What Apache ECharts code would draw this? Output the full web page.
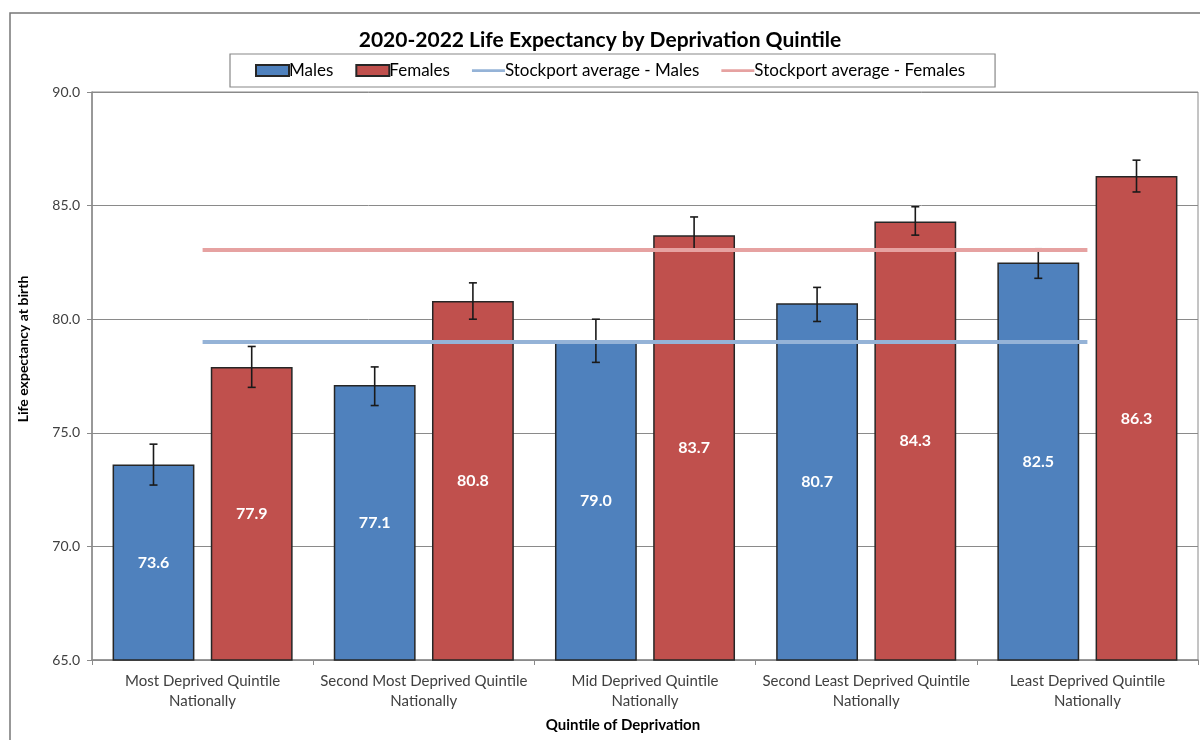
<!DOCTYPE html>
<html><head><meta charset="utf-8">
<script src="https://cdn.jsdelivr.net/npm/echarts@6/dist/echarts.min.js"></script>
<style>html,body{margin:0;padding:0;background:#fff}#c{width:1200px;height:740px}</style>
</head><body><div id="c"></div>
<script>
const categories = ['Most Deprived Quintile\nNationally','Second Most Deprived Quintile\nNationally','Mid Deprived Quintile\nNationally','Second Least Deprived Quintile\nNationally','Least Deprived Quintile\nNationally'];
const males = [73.6, 77.1, 79.0, 80.7, 82.5];
const females = [77.9, 80.8, 83.7, 84.3, 86.3];
const malesLow = [72.7, 76.2, 78.1, 79.9, 81.8];
const malesHigh = [74.5, 77.9, 80.0, 81.4, 83.1];
const femalesLow = [77.0, 80.0, 83.0, 83.7, 85.6];
const femalesHigh = [78.8, 81.6, 84.5, 84.95, 87.0];
const stockportMales = [79.0, 79.0, 79.0, 79.0, 79.0];
const stockportFemales = [83.05, 83.05, 83.05, 83.05, 83.05];
const yTicks = {min: 65, max: 90, interval: 5};

const FONT = 'Lato';
const BAR_W = 0.37, GAP = 0.2;
const offsetFrac = (BAR_W + BAR_W * GAP) / 2;
const LINE_ICON = 'path://M0,0 M36,12 M0,4.5 L36,4.5 L36,7.5 L0,7.5 Z';

function errRender(sign) {
  return function (params, api) {
    const i = api.value(0);
    const lo = api.coord([i, api.value(1)]);
    const hi = api.coord([i, api.value(2)]);
    const cw = api.size([1, 0])[0];
    const x = lo[0] + sign * cw * offsetFrac;
    const cap = 4;
    const st = {stroke: '#1a1a1a', lineWidth: 1.6};
    return {type: 'group', children: [
      {type: 'line', shape: {x1: x, y1: lo[1], x2: x, y2: hi[1]}, style: st},
      {type: 'line', shape: {x1: x - cap, y1: lo[1], x2: x + cap, y2: lo[1]}, style: st},
      {type: 'line', shape: {x1: x - cap, y1: hi[1], x2: x + cap, y2: hi[1]}, style: st}
    ]};
  };
}

const chart = echarts.init(document.getElementById('c'), null, {renderer: 'canvas'});
chart.setOption({
  animation: false,
  backgroundColor: '#fff',
  textStyle: {fontFamily: FONT},
  graphic: [{type: 'rect', shape: {x: 10, y: 13, width: 1300, height: 900}, style: {fill: 'none', stroke: '#777', lineWidth: 1.5}, z: -1}],
  title: {text: '2020-2022 Life Expectancy by Deprivation Quintile', left: 'center', top: 25,
    textStyle: {fontFamily: FONT, fontSize: 21, fontWeight: 'bold', color: '#000'}},
  legend: {
    top: 54, left: 230, padding: [8, 30, 8, 25], itemGap: 22, itemWidth: 33, itemHeight: 11,
    borderColor: '#888', borderWidth: 1.2,
    textStyle: {fontFamily: FONT, fontSize: 17, color: '#000', padding: [0, 0, 0, -5]},
    data: [
      {name: 'Males', icon: 'rect'},
      {name: 'Females', icon: 'rect'},
      {name: 'Stockport average - Males', icon: LINE_ICON},
      {name: 'Stockport average - Females', icon: LINE_ICON}
    ]
  },
  grid: {left: 92, right: 2, top: 92, bottom: 80, show: true, borderColor: '#8a8a8a', borderWidth: 1},
  xAxis: {
    type: 'category', data: categories,
    name: 'Quintile of Deprivation', nameLocation: 'middle', nameGap: 58,
    nameTextStyle: {fontFamily: FONT, fontSize: 15, fontWeight: 'bold', color: '#000', padding: [0, 44, 0, 0]},
    axisLine: {lineStyle: {color: '#8a8a8a', width: 1.5}},
    axisTick: {show: true, length: 5, lineStyle: {color: '#8a8a8a'}},
    axisLabel: {interval: 0, fontFamily: FONT, fontSize: 15, color: '#404040', lineHeight: 20, margin: 11}
  },
  yAxis: {
    type: 'value', min: yTicks.min, max: yTicks.max, interval: yTicks.interval,
    name: 'Life expectancy at birth', nameLocation: 'middle', nameGap: 62, nameRotate: 90,
    nameTextStyle: {fontFamily: FONT, fontSize: 14, fontWeight: 'bold', color: '#000', padding: [0, 0, 0, 54]},
    axisLine: {show: true, lineStyle: {color: '#8a8a8a', width: 1.5}},
    axisTick: {show: true, length: 5, lineStyle: {color: '#8a8a8a'}},
    splitLine: {lineStyle: {color: '#8a8a8a', width: 1}},
    axisLabel: {fontFamily: FONT, fontSize: 14, color: '#404040', margin: 12, formatter: v => v.toFixed(1)}
  },
  series: [
    {name: 'Males', type: 'bar', data: males, barWidth: (BAR_W * 100) + '%', barGap: (GAP * 100) + '%',
      itemStyle: {color: '#4f81bd', borderColor: '#262626', borderWidth: 1.5},
      label: {show: true, position: 'inside', color: '#fff', fontFamily: FONT, fontWeight: 'bold', fontSize: 16, formatter: p => p.value.toFixed(1)}},
    {name: 'Females', type: 'bar', data: females, barWidth: (BAR_W * 100) + '%',
      itemStyle: {color: '#c0504d', borderColor: '#262626', borderWidth: 1.5},
      label: {show: true, position: 'inside', color: '#fff', fontFamily: FONT, fontWeight: 'bold', fontSize: 16, formatter: p => p.value.toFixed(1)}},
    {name: 'errM', type: 'custom', renderItem: errRender(-1), data: males.map((v, i) => [i, malesLow[i], malesHigh[i]]), z: 5, silent: true},
    {name: 'errF', type: 'custom', renderItem: errRender(1), data: females.map((v, i) => [i, femalesLow[i], femalesHigh[i]]), z: 5, silent: true},
    {name: 'Stockport average - Males', type: 'line', data: stockportMales, symbol: 'none', z: 6,
      lineStyle: {color: '#95b3d7', width: 4}, itemStyle: {color: '#95b3d7'}},
    {name: 'Stockport average - Females', type: 'line', data: stockportFemales, symbol: 'none', z: 6,
      lineStyle: {color: '#e6a2a1', width: 4}, itemStyle: {color: '#e6a2a1'}}
  ]
});
</script></body></html>
